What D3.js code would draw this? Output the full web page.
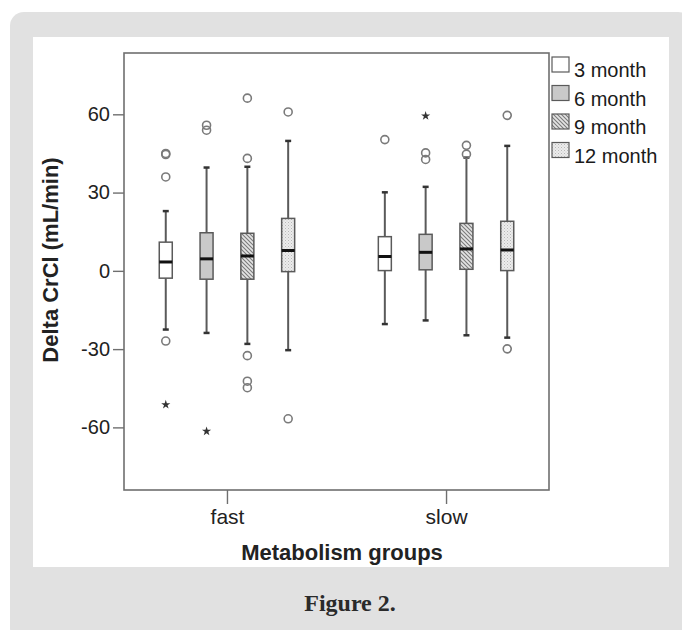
<!DOCTYPE html>
<html><head><meta charset="utf-8">
<script src="https://cdn.jsdelivr.net/npm/d3@7"></script>
<style>html,body{margin:0;padding:0;background:#fff;}svg{display:block;}</style>
</head><body>
<script>
// ---- data ----
const groups = ["fast", "slow"];
const series = ["3 month", "6 month", "9 month", "12 month"];
const yTicks = [-60, -30, 0, 30, 60];
// per group, per series: [whiskerLow, q1, median, q3, whiskerHigh]
const fastStats = [
  [-22.5, -2.8, 3.4, 11.0, 22.9],
  [-23.8, -3.2, 4.6, 14.6, 39.6],
  [-28.0, -3.2, 5.7, 14.4, 39.9],
  [-30.4, -0.3, 7.8, 20.1, 49.8]
];
const slowStats = [
  [-20.4, 0.1, 5.5, 13.1, 30.1],
  [-19.0, 0.4, 7.1, 14.0, 32.2],
  [-24.7, 0.6, 8.4, 18.2, 43.4],
  [-25.6, 0.1, 8.0, 19.0, 47.9]
];
const fastCircles = [[44.6, 45.0, 36.0, -26.9], [55.8, 53.9], [66.2, 43.1, -32.5, -42.3, -44.8], [60.9, -56.7]];
const slowCircles = [[50.3], [45.2, 42.7], [48.1, 44.7], [59.6, -29.9]];
const fastStars = [[-51.3], [-61.5], [], []];
const slowStars = [[], [59.4], [], []];
const yDomain = [-84, 83.5];

// ---- layout ----
const W = 682, H = 630;
const FONT = "'Liberation Sans', Arial, sans-serif";
const svg = d3.select("body").append("svg").attr("width", W).attr("height", H);
const defs = svg.append("defs");
const hatch = defs.append("pattern").attr("id", "hatch").attr("patternUnits", "userSpaceOnUse")
  .attr("width", 4).attr("height", 4);
hatch.append("rect").attr("width", 4).attr("height", 4).attr("fill", "#e4e4e4");
hatch.append("path").attr("d", "M-1,-1L5,5M-1,3L1,5M3,-1L5,1").attr("stroke", "#7a7a7a").attr("stroke-width", 1.1);
const dots = defs.append("pattern").attr("id", "dots").attr("patternUnits", "userSpaceOnUse")
  .attr("width", 3).attr("height", 3);
dots.append("rect").attr("width", 3).attr("height", 3).attr("fill", "#ececec");
dots.append("rect").attr("width", 1).attr("height", 1).attr("fill", "#b8b8b8");
dots.append("rect").attr("x", 1.5).attr("y", 1.5).attr("width", 1).attr("height", 1).attr("fill", "#c8c8c8");
const fills = ["#ffffff", "#c9c9c9", "url(#hatch)", "url(#dots)"];

svg.append("rect").attr("x", 10).attr("y", 12).attr("width", W).attr("height", H).attr("rx", 14).attr("fill", "#e1e1e1");
svg.append("rect").attr("x", 33).attr("y", 37).attr("width", 636).attr("height", 530).attr("fill", "#fff");

const L = 124, R = 549, T = 53, B = 490;
const x = d3.scalePoint().domain(groups).range([L, R]).padding(0.47);
const sub = d3.scaleBand().domain(series).range([-81.6, 81.6]);
const y = d3.scaleLinear().domain(yDomain).range([B, T]);
const boxW = 13;

const axisCol = "#6f6f6f";
// frame
svg.append("rect").attr("x", L).attr("y", T).attr("width", R - L).attr("height", B - T)
  .attr("fill", "none").attr("stroke", axisCol).attr("stroke-width", 1.6);

const yAxis = svg.append("g").attr("transform", `translate(${L},0)`)
  .call(d3.axisLeft(y).tickValues(yTicks).tickSize(11).tickPadding(3).tickFormat(d => String(d)));
yAxis.select(".domain").remove();
yAxis.selectAll("line").attr("stroke", axisCol).attr("stroke-width", 1.4);
yAxis.selectAll("text").attr("font-family", FONT).attr("font-size", 20).attr("fill", "#222");

const xAxis = svg.append("g").attr("transform", `translate(0,${B})`)
  .call(d3.axisBottom(x).tickSize(14).tickPadding(5));
xAxis.select(".domain").remove();
xAxis.selectAll("line").attr("stroke", axisCol).attr("stroke-width", 1.4);
xAxis.selectAll("text").attr("font-family", FONT).attr("font-size", 21).attr("fill", "#222");

// boxes
const statsByGroup = { fast: fastStats, slow: slowStats };
const circlesByGroup = { fast: fastCircles, slow: slowCircles };
const starsByGroup = { fast: fastStars, slow: slowStars };
const boxCol = "#5a5a5a";
groups.forEach(gname => {
  series.forEach((s, i) => {
    const [lo, q1, med, q3, hi] = statsByGroup[gname][i];
    const cx = x(gname) + sub(s) + sub.bandwidth() / 2;
    const g = svg.append("g");
    g.append("line").attr("x1", cx).attr("x2", cx).attr("y1", y(hi)).attr("y2", y(q3)).attr("stroke", boxCol).attr("stroke-width", 2);
    g.append("line").attr("x1", cx).attr("x2", cx).attr("y1", y(q1)).attr("y2", y(lo)).attr("stroke", boxCol).attr("stroke-width", 2);
    [hi, lo].forEach(v => g.append("line").attr("x1", cx - 3).attr("x2", cx + 3).attr("y1", y(v)).attr("y2", y(v)).attr("stroke", "#333").attr("stroke-width", 2.5));
    g.append("rect").attr("x", cx - boxW / 2).attr("y", y(q3)).attr("width", boxW).attr("height", y(q1) - y(q3))
      .attr("fill", fills[i]).attr("stroke", boxCol).attr("stroke-width", 1.5);
    g.append("line").attr("x1", cx - boxW / 2).attr("x2", cx + boxW / 2).attr("y1", y(med)).attr("y2", y(med)).attr("stroke", "#111").attr("stroke-width", 3);
    circlesByGroup[gname][i].forEach(v => g.append("circle").attr("cx", cx).attr("cy", y(v)).attr("r", 4)
      .attr("fill", "none").attr("stroke", "#7a7a7a").attr("stroke-width", 1.6));
    starsByGroup[gname][i].forEach(v => g.append("path").attr("d", d3.symbol(d3.symbolStar, 26)())
      .attr("transform", `translate(${cx},${y(v)})`).attr("fill", "#333"));
  });
});

// legend
const leg = svg.append("g").attr("transform", "translate(552,57)");
series.forEach((s, i) => {
  const gy = i * 28.5;
  leg.append("rect").attr("x", 0).attr("y", gy).attr("width", 17).attr("height", 15)
    .attr("fill", fills[i]).attr("stroke", boxCol).attr("stroke-width", 1.2);
  leg.append("text").attr("x", 22).attr("y", gy + 20).text(s)
    .attr("font-family", FONT).attr("font-size", 20).attr("fill", "#1a1a1a");
});

// titles
svg.append("text").attr("transform", "translate(58,260) rotate(-90)").attr("text-anchor", "middle")
  .attr("font-family", FONT).attr("font-weight", "bold").attr("font-size", 22)
  .attr("fill", "#222").text("Delta CrCl (mL/min)");
svg.append("text").attr("x", 342).attr("y", 560).attr("text-anchor", "middle")
  .attr("font-family", FONT).attr("font-weight", "bold").attr("font-size", 22)
  .attr("fill", "#222").text("Metabolism groups");
svg.append("text").attr("x", 350).attr("y", 611).attr("text-anchor", "middle")
  .attr("font-family", "'Liberation Serif', serif").attr("font-weight", "bold").attr("font-size", 24)
  .attr("fill", "#2a2a2a").text("Figure 2.");
</script>
</body></html>
